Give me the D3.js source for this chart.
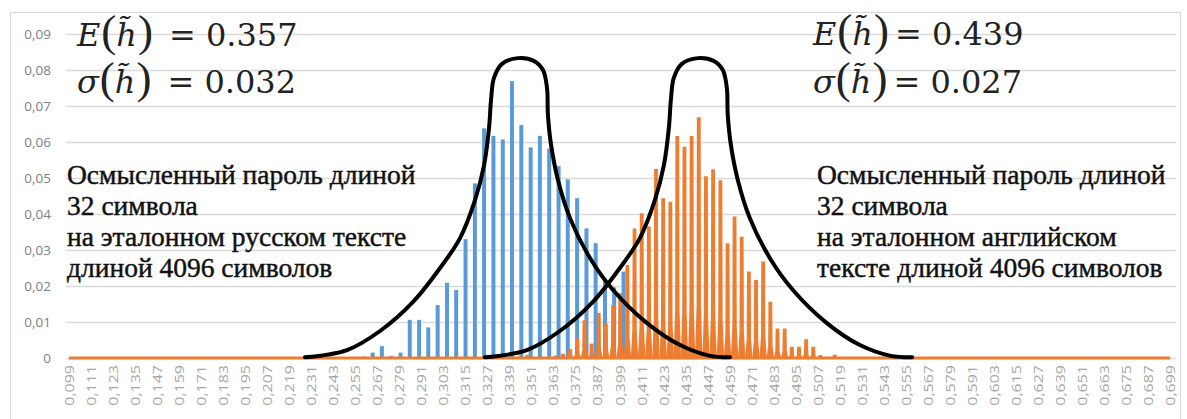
<!DOCTYPE html>
<html>
<head>
<meta charset="utf-8">
<style>
  body { margin: 0; background: #fff; }
  svg { display: block; font-family: "Open Sans", sans-serif; }
</style>
</head>
<body>
<script src="https://cdnjs.cloudflare.com/ajax/libs/d3/7.8.5/d3.min.js"></script>
<script>
const W = 1187, H = 419;

// Russian reference text: bar position (h) and relative frequency
const blueX = [0.2594, 0.2645, 0.2695, 0.2746, 0.2797, 0.2847, 0.2898, 0.2948, 0.2999, 0.3050,
               0.3100, 0.3151, 0.3202, 0.3252, 0.3303, 0.3354, 0.3404, 0.3455, 0.3506, 0.3556,
               0.3607, 0.3658, 0.3708, 0.3759, 0.3810, 0.3860, 0.3911, 0.3961, 0.4012];
const blueY = [0.0004, 0.0015, 0.0033, 0.0006, 0.0015, 0.0106, 0.0106, 0.0085, 0.0147, 0.0209,
               0.0189, 0.0330, 0.0485, 0.0638, 0.0617, 0.0607, 0.0769, 0.0647, 0.0585, 0.0617,
               0.0582, 0.0533, 0.0496, 0.0444, 0.0360, 0.0319, 0.0219, 0.0196, 0.0240];

// English reference text
const orangeX = [0.3449, 0.3488, 0.3527, 0.3566, 0.3605, 0.3643, 0.3682, 0.3721, 0.3760, 0.3799,
                 0.3838, 0.3877, 0.3916, 0.3955, 0.3994, 0.4033, 0.4072, 0.4111, 0.4150, 0.4189,
                 0.4228, 0.4267, 0.4305, 0.4344, 0.4383, 0.4422, 0.4461, 0.4500, 0.4540, 0.4579,
                 0.4617, 0.4656, 0.4695, 0.4734, 0.4773, 0.4812, 0.4851, 0.4890, 0.4929, 0.4968,
                 0.5007, 0.5046, 0.5085, 0.5124, 0.5163];
const orangeY = [0.0004, 0.0009, 0.0003, 0.0002, 0.0003, 0.0007, 0.0012, 0.0025, 0.0055, 0.0105,
                 0.0040, 0.0125, 0.0095, 0.0147, 0.0180, 0.0258, 0.0360, 0.0402, 0.0365, 0.0525,
                 0.0444, 0.0434, 0.0617, 0.0587, 0.0617, 0.0669, 0.0505, 0.0524, 0.0494, 0.0319,
                 0.0393, 0.0337, 0.0240, 0.0217, 0.0268, 0.0156, 0.0082, 0.0082, 0.0031, 0.0031,
                 0.0052, 0.0031, 0.0008, 0.0002, 0.0009];

const xTicks = [0.099, 0.111, 0.123, 0.135, 0.147, 0.159, 0.171, 0.183, 0.195, 0.207, 0.219,
                0.231, 0.243, 0.255, 0.267, 0.279, 0.291, 0.303, 0.315, 0.327, 0.339, 0.351,
                0.363, 0.375, 0.387, 0.399, 0.411, 0.423, 0.435, 0.447, 0.459, 0.471, 0.483,
                0.495, 0.507, 0.519, 0.531, 0.543, 0.555, 0.567, 0.579, 0.591, 0.603, 0.615,
                0.627, 0.639, 0.651, 0.663, 0.675, 0.687, 0.699];
const yTicks = [0, 0.01, 0.02, 0.03, 0.04, 0.05, 0.06, 0.07, 0.08, 0.09];

// hand-drawn envelopes
const envLeftX  = [0.2276, 0.2505, 0.2685, 0.2865, 0.3012, 0.3121, 0.3203, 0.3252, 0.3279, 0.3290,
                   0.3306, 0.3350, 0.3437, 0.3524, 0.3573, 0.3595, 0.3600, 0.3617, 0.3655, 0.3720,
                   0.3829, 0.3955, 0.4140, 0.4320, 0.4483, 0.4592];
const envLeftY  = [0.0002, 0.0022, 0.0075, 0.0156, 0.0250, 0.0333, 0.0439, 0.0536, 0.0639, 0.0717,
                   0.0778, 0.0817, 0.0833, 0.0825, 0.0800, 0.0750, 0.0675, 0.0592, 0.0494, 0.0389,
                   0.0278, 0.0189, 0.0097, 0.0036, 0.0006, 0.0002];
const envRightX = [0.3256, 0.3485, 0.3665, 0.3845, 0.3992, 0.4101, 0.4183, 0.4232, 0.4259, 0.4270,
                   0.4286, 0.4330, 0.4417, 0.4504, 0.4553, 0.4575, 0.4580, 0.4597, 0.4635, 0.4700,
                   0.4809, 0.4935, 0.5120, 0.5300, 0.5468, 0.5585];
const envRightY = envLeftY.slice();

const statLeft  = ["0.357", "0.032"];
const statRight = ["0.439", "0.027"];
const noteLeft  = ["Осмысленный пароль длиной", "32 символа", "на эталонном русском тексте", "длиной 4096 символов"];
const noteRight = ["Осмысленный пароль длиной", "32 символа", "на эталонном английском", "тексте длиной 4096 символов"];

const svg = d3.select("body").append("svg")
  .attr("width", W).attr("height", H);

svg.append("rect")
  .attr("x", 10.5).attr("y", 12.5).attr("width", 1170).attr("height", 420)
  .attr("fill", "#fff").attr("stroke", "#d9d9d9");

const x = d3.scaleLinear().domain([0.099, 0.699]).range([69, 1170]);
const y = d3.scaleLinear().domain([0, 0.09]).range([358, 34]);
const fmt = d => d === 0 ? "0" : d3.format(".2f")(d).replace(".", ",");

// y axis + gridlines
const gy = svg.append("g")
  .attr("transform", "translate(66,0)")
  .call(d3.axisLeft(y).tickValues(yTicks).tickFormat(fmt).tickSize(-(1176 - 66)).tickPadding(15));
gy.select(".domain").remove();
gy.selectAll("line").attr("stroke", "#d9d9d9").attr("stroke-width", 1.3);
gy.selectAll("text").attr("fill", "#808080").attr("font-size", 13.5).attr("font-family", "Open Sans");

// x axis labels
const gx = svg.append("g")
  .attr("transform", "translate(0,358)")
  .call(d3.axisBottom(x).tickValues(xTicks).tickSize(0)
    .tickFormat(d => d3.format(".3f")(d).replace(".", ",")));
gx.select(".domain").remove();
gx.selectAll("text")
  .attr("y", 0).attr("x", 0).attr("dy", 0)
  .attr("text-anchor", "end")
  .attr("transform", "rotate(-90) translate(-7,4.5) scale(1,0.78)")
  .attr("fill", "#a6a6a6")
  .attr("font-size", 16).attr("font-family", "Open Sans");

// blue bars
svg.append("g").selectAll("rect")
  .data(blueX.map((d, i) => [d, blueY[i]]))
  .join("rect")
  .attr("x", d => x(d[0]) - 2)
  .attr("width", 4)
  .attr("y", d => y(d[1]))
  .attr("height", d => y(0) - y(d[1]))
  .attr("fill", "#5b9bd5");

// orange spikes
const spike = d3.line();
svg.append("g").selectAll("path")
  .data(orangeX.map((d, i) => [d, orangeY[i]]))
  .join("path")
  .attr("d", d => {
    const cx = x(d[0]), y0 = y(0), yt = y(d[1]), yk = y(d[1] * 0.22);
    return spike([[cx - 3.7, y0], [cx - 2.2, yk], [cx - 1.9, yt], [cx + 1.9, yt],
                  [cx + 2.2, yk], [cx + 3.7, y0]]) + "Z";
  })
  .attr("fill", "#ed7d31");

// zero line of the orange series
svg.append("line")
  .attr("x1", x(0.099)).attr("x2", x(0.699))
  .attr("y1", y(0)).attr("y2", y(0))
  .attr("stroke", "#ed7d31").attr("stroke-width", 3);

// envelopes
const env = d3.line().x(d => x(d[0])).y(d => y(d[1])).curve(d3.curveCatmullRom.alpha(0.5));
[[envLeftX, envLeftY], [envRightX, envRightY]].forEach(([xs, ys]) => {
  svg.append("path")
    .attr("d", env(xs.map((d, i) => [d, ys[i]])))
    .attr("fill", "none").attr("stroke", "#000")
    .attr("stroke-width", 4).attr("stroke-linecap", "round");
});

// notes
function note(lines, x0) {
  const t = svg.append("text")
    .attr("x", x0).attr("y", 184)
    .attr("font-family", "Liberation Serif")
    .attr("font-size", 27.5)
    .attr("fill", "#111").attr("stroke", "#111").attr("stroke-width", 0.45);
  lines.forEach((s, i) => t.append("tspan").attr("x", x0).attr("y", 184 + i * 31).text(s));
}
note(noteLeft, 67);
note(noteRight, 817);

// formulas, one text each
function formula(sym, val, x0, base, eqDx) {
  const t = svg.append("text").attr("x", x0).attr("y", base)
    .attr("fill", "#222")
    .attr("font-family", "DejaVu Serif").attr("font-size", 32);
  t.append("tspan").attr("font-style", "italic").text(sym);
  t.append("tspan").attr("dx", 1).attr("font-size", 45)
    .attr("font-family", "Liberation Serif").text("(");
  t.append("tspan").attr("font-style", "italic").text("h\u0303");
  t.append("tspan").attr("dx", 1).attr("font-size", 45)
    .attr("font-family", "Liberation Serif").text(")");
  t.append("tspan").attr("dx", eqDx).text("= " + val);
}
formula("E", statLeft[0], 77, 46, 16);
formula("σ", statLeft[1], 77, 93, 16);
formula("E", statRight[0], 813, 45, 6);
formula("σ", statRight[1], 813, 93, 6);
</script>
</body>
</html>
